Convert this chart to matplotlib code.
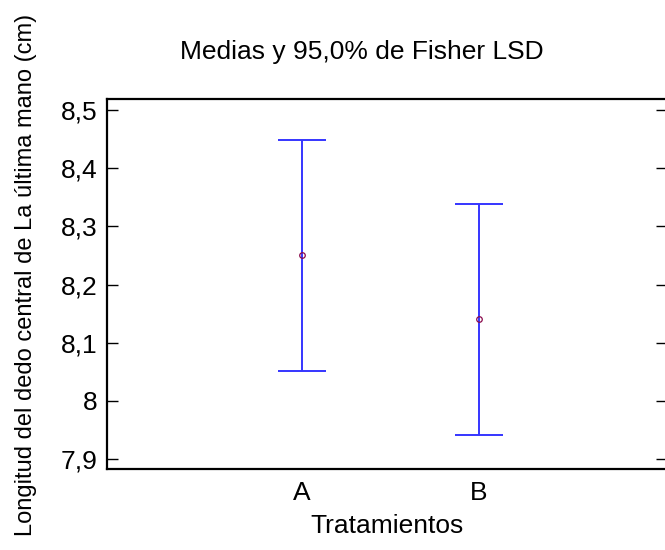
import matplotlib
matplotlib.use("Agg")
import matplotlib.pyplot as plt
from matplotlib.ticker import FuncFormatter

plt.rcParams['font.family'] = ['Liberation Sans', 'DejaVu Sans']

# medias por tratamiento y limites del intervalo LSD (95%)
tratamientos = ["A", "B"]
medias = [8.25, 8.14]
lim_inf = [8.052, 7.942]
lim_sup = [8.448, 8.338]

pos = [1, 2]
err_low = [m - lo for m, lo in zip(medias, lim_inf)]
err_high = [hi - m for m, hi in zip(medias, lim_sup)]

fig = plt.figure(figsize=(6.65, 5.5), dpi=100)
ax = fig.add_axes([107 / 665, 81 / 550, 560 / 665, 370 / 550])

ax.errorbar(pos, medias, yerr=[err_low, err_high], fmt='none',
            ecolor='#3535ff', elinewidth=1.4, capsize=17, capthick=1.4)
ax.plot(pos, medias, 'o', ms=4, mfc='none', mec='#8a0a4a', mew=0.9)

ax.set_xlim(-0.102, 3.062)
ax.set_ylim(7.883, 8.519)
ax.set_xticks(pos)
ax.set_xticklabels(tratamientos)
ax.set_yticks([7.9, 8.0, 8.1, 8.2, 8.3, 8.4, 8.5])
ax.yaxis.set_major_formatter(FuncFormatter(
    lambda v, p: f"{v:g}".replace('.', ',')))

ax.tick_params(axis='y', direction='in', length=8, width=1, labelsize=19,
               right=True, pad=7)
ax.tick_params(axis='x', length=0, labelsize=19, pad=9)
for s in ax.spines.values():
    s.set_linewidth(1.6)

fig.text(362 / 665, 1 - 52 / 550, "Medias y 95,0% de Fisher LSD",
         fontsize=19, ha='center', va='center')
ax.set_xlabel("Tratamientos", fontsize=19, labelpad=6)
ax.set_ylabel("Longitud del dedo central de La última mano (cm)",
              fontsize=17)
ax.yaxis.set_label_coords(-0.125, 0.525)

fig.savefig("out.png", dpi=100)
